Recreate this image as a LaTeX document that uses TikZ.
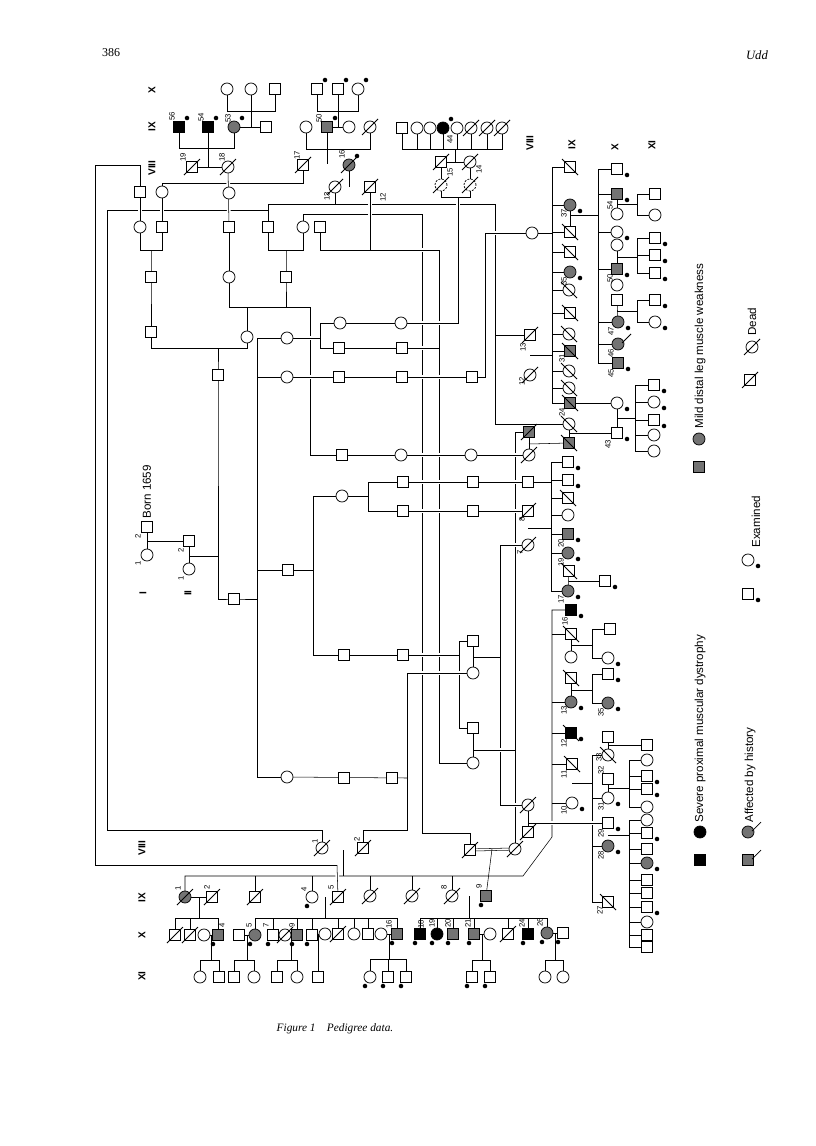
\documentclass[tikz,border=0pt]{standalone}
\usepackage{fontspec}
\setmainfont{Liberation Serif}
\setsansfont{Liberation Sans}
\usetikzlibrary{backgrounds}
\tikzset{
  pm/.style={draw,fill=white,minimum size=8.6pt,inner sep=0pt},
  pf/.style={draw,fill=white,circle,minimum size=9pt,inner sep=0pt},
  aff/.style={fill=black},
  mild/.style={fill=black!55},
  dead/.style={append after command={([shift={(-8,8)}]\tikzlastnode.center) edge ([shift={(8,-8)}]\tikzlastnode.center)}},
  deadr/.style={append after command={([shift={(-8,-8)}]\tikzlastnode.center) edge ([shift={(8,8)}]\tikzlastnode.center)}},
  hist/.style={append after command={([shift={(4,-1)}]\tikzlastnode.center) edge ([shift={(13,-10)}]\tikzlastnode.center)}},
  dsh/.style={dash pattern=on 1.5pt off 1pt},
  lbl/.style={font=\sffamily\fontsize{5.8}{6}\selectfont,rotate=90,inner sep=0pt},
  gen/.style={font=\sffamily\bfseries\fontsize{7.5}{8}\selectfont,rotate=90,inner sep=0pt},
  legtxt/.style={font=\sffamily\fontsize{8.7}{10}\selectfont,rotate=90,inner sep=0pt,anchor=west},
  ovr/.style={preaction={draw=white,line width=2.8pt,shorten <=2pt,shorten >=2pt}},
  dbl/.style={double,double distance=1.2pt}
}
\begin{document}
\begin{tikzpicture}[x=0.75pt,y=-0.75pt,line width=0.55pt]
\useasboundingbox (0,0) rectangle (816,1146);
% page head and caption
\node[font=\fontsize{9}{10}\selectfont] (pg) at (111,53) {386};
\node[font=\itshape\fontsize{9.5}{11}\selectfont] (au) at (757,55) {Udd};
\node[font=\itshape\fontsize{8.5}{10}\selectfont] (cap) at (335,1029) {Figure 1\quad Pedigree data.};
% generation labels
\node[gen] (gtx) at (152,90) {X};
\node[gen] (gtix) at (152,127) {IX};
\node[gen] (gtviii) at (152,168) {VIII};
\node[gen] (gi) at (143,593) {I};
\node[gen] (gii) at (188,593) {II};
\node[gen] (grviii) at (530,143) {VIII};
\node[gen] (grix) at (572,145) {IX};
\node[gen] (grx) at (615,147) {X};
\node[gen] (grxi) at (652,145) {XI};
\node[gen] (gbviii) at (142,848) {VIII};
\node[gen] (gbix) at (142,898) {IX};
\node[gen] (gbx) at (142,935) {X};
\node[gen] (gbxi) at (142,976) {XI};
\node[legtxt] (born) at (147,519) {Born 1659};
% upper branch
\node[pf] (tx1) at (227,89) {};
\node[pf] (tx2) at (251,89) {};
\node[pm] (tx3) at (275,89) {};
\node[pm] (tx4) at (317,89) {};
\node[pm] (tx5) at (338,89) {};
\node[pf] (tx6) at (358,89) {};
\node[pm,aff] (t56) at (179,127) {};
\node[pm,aff] (t54) at (208,127) {};
\node[pf,mild] (t53) at (234,127) {};
\node[pm] (t53s) at (266,127) {};
\node[pf] (tA) at (306,127) {};
\node[pm,mild] (t50) at (327,127) {};
\node[pf] (t50s) at (349,127) {};
\node[pf,dead] (tB) at (370,127) {};
\node[pm,dead] (t19) at (192,167) {};
\node[pf,dead] (t18) at (228,167) {};
\node[pm,dead] (t17) at (303,165) {};
\node[pf,mild,dead] (t16) at (349,165) {};
\node[pf,dead] (t13) at (335,187) {};
\node[pm,dead] (t12) at (370,187) {};
\node[pm] (tc1) at (402,128) {};
\node[pf] (tc2) at (417,128) {};
\node[pf] (tc3) at (430,128) {};
\node[pf,aff] (t44) at (443,128) {};
\node[pf] (tc5) at (457,128) {};
\node[pf,dead] (tc6) at (471,128) {};
\node[pf,dead] (tc7) at (487,128) {};
\node[pf,dead] (tc8) at (502,128) {};
\node[pm,dead] (t15) at (441,162) {};
\node[pf,dead] (t14) at (470,162) {};
\node[pf,dead,dsh] (t15p) at (441,185) {};
\node[pf,dead,dsh] (t14p) at (470,185) {};
\node[pm] (ta2) at (140,192) {};
\node[pf] (ta1) at (162,192) {};
\node[pf] (tb1) at (229,193) {};
\node[pf] (tr1) at (140,227) {};
\node[pm] (tr2) at (162,227) {};
\node[pm] (tr3) at (229,227) {};
\node[pm] (tr4) at (268,227) {};
\node[pf] (tr5) at (303,227) {};
\node[pm] (tr6) at (320,227) {};
\node[pm] (ts1) at (151,277) {};
\node[pf] (ts2) at (229,277) {};
\node[pm] (ts3) at (286,277) {};
\node[pm] (tu1) at (151,332) {};
\node[pf] (tu2) at (247,337) {};
\node[pm] (tv) at (218,375) {};
% founders and middle chains
\node[pm] (cI2) at (147,527) {};
\node[pf] (cI1) at (147,555) {};
\node[pm] (cII2) at (189,541) {};
\node[pf] (cII1) at (189,569) {};
\node[pm] (cg) at (234,599) {};
\node[pf] (ch1) at (287,338) {};
\node[pf] (ch2) at (287,377) {};
\node[pm] (ch3) at (288,570) {};
\node[pf] (ch4) at (287,777) {};
\node[pf] (q1a) at (340,323) {};
\node[pf] (q1b) at (401,323) {};
\node[pm] (q2a) at (339,348) {};
\node[pm] (q2b) at (402,348) {};
\node[pm] (q3a) at (339,377) {};
\node[pm] (q3b) at (402,377) {};
\node[pm] (q3c) at (472,377) {};
\node[pm] (q4a) at (342,455) {};
\node[pf] (q4b) at (401,455) {};
\node[pf] (q4c) at (471,455) {};
\node[pf,dead] (q4d) at (529,455) {};
\node[pf] (q5o) at (342,496) {};
\node[pm] (q5a) at (403,482) {};
\node[pm] (q5b) at (473,482) {};
\node[pm] (q5c) at (528,482) {};
\node[pm] (q6a) at (403,511) {};
\node[pm] (q6b) at (473,511) {};
\node[pm,dead] (v8) at (528,511) {};
\node[pf,dead] (v7) at (528,545) {};
\node[pm] (q7a) at (344,655) {};
\node[pm] (q7b) at (403,655) {};
\node[pm] (q8a) at (473,641) {};
\node[pf] (q8b) at (473,673) {};
\node[pm] (q8c) at (473,728) {};
\node[pf] (q8d) at (473,763) {};
\node[pm] (q9a) at (344,778) {};
\node[pm] (q9b) at (392,778) {};
\node[pm,mild,dead] (vq) at (529,432) {};
\node[pf] (vo) at (532,233) {};
\node[pm,dead] (v13) at (530,335) {};
\node[pf,dead] (v12) at (530,375) {};
\node[pf,dead] (vz1) at (528,805) {};
\node[pm,dead] (vz2) at (528,832) {};
% right branch, IX
\node[pm,deadr] (ra1) at (570,167) {};
\node[pf,mild] (r37) at (570,205) {};
\node[pm,deadr] (ra3) at (570,232) {};
\node[pm,deadr] (ra4) at (570,252) {};
\node[pf,mild] (r35) at (570,272) {};
\node[pf,deadr] (ra6) at (569,290) {};
\node[pm,deadr] (ra7) at (570,313) {};
\node[pf,deadr] (ra8) at (569,334) {};
\node[pm,mild,deadr] (r31) at (570,351) {};
\node[pf,deadr] (ra10) at (569,371) {};
\node[pf,deadr] (ra11) at (569,388) {};
\node[pm,mild,deadr] (r24) at (570,403) {};
\node[pf,deadr] (ra13) at (569,424) {};
\node[pm,mild,deadr] (ra14) at (569,443) {};
\node[pm] (rb1) at (568,462) {};
\node[pm] (rb2) at (568,480) {};
\node[pm,deadr] (rb3) at (568,498) {};
\node[pf] (rb4) at (568,515) {};
\node[pm,mild] (r20) at (568,534) {};
\node[pf,mild] (r19) at (568,553) {};
\node[pm,deadr] (rb7) at (569,571) {};
\node[pf,mild] (r17) at (568,591) {};
\node[pm,aff] (r16) at (571,610) {};
\node[pm,deadr] (rc2) at (571,634) {};
\node[pf] (rc3) at (571,657) {};
\node[pm,deadr] (rc4) at (571,678) {};
\node[pf,mild] (r13) at (571,702) {};
\node[pm,aff,deadr] (r12) at (571,733) {};
\node[pm,deadr] (r11) at (572,764) {};
\node[pf] (r10) at (572,803) {};
% right branch, X and XI
\node[pm] (rx1) at (617,169) {};
\node[pm,mild] (r54) at (617,194) {};
\node[pf] (rx3) at (617,214) {};
\node[pf] (rx4) at (617,232) {};
\node[pf] (rx5) at (617,245) {};
\node[pm,mild] (r50) at (617,269) {};
\node[pf] (rx7) at (617,285) {};
\node[pm] (rx8) at (617,300) {};
\node[pf,mild] (r47) at (618,322) {};
\node[pf,mild,hist] (r46) at (618,344) {};
\node[pm,mild] (r45) at (618,363) {};
\node[pf] (rx12) at (617,403) {};
\node[pm] (r43) at (617,433) {};
\node[pm] (ry1) at (655,194) {};
\node[pf] (ry2) at (655,215) {};
\node[pm] (ry3) at (655,238) {};
\node[pm] (ry4) at (655,255) {};
\node[pm] (ry5) at (655,273) {};
\node[pm] (ry6) at (655,300) {};
\node[pf] (ry7) at (655,322) {};
\node[pm] (ry8) at (654,385) {};
\node[pf] (ry9) at (654,402) {};
\node[pm] (ry10) at (654,420) {};
\node[pf] (ry11) at (654,435) {};
\node[pf] (ry12) at (654,451) {};
\node[pm] (rs1) at (605,581) {};
\node[pm] (rs2) at (610,629) {};
\node[pf] (rs3) at (608,658) {};
\node[pm] (rs4) at (608,674) {};
\node[pf,mild] (r35b) at (608,703) {};
\node[pm] (rs6) at (608,737) {};
\node[pf,deadr] (r33) at (608,755) {};
\node[pm] (r32) at (608,779) {};
\node[pf] (r31b) at (608,798) {};
\node[pm] (r29) at (608,823) {};
\node[pf,mild] (r28) at (608,846) {};
\node[pm,deadr] (r27) at (608,902) {};
\node[pm] (rt1) at (647,745) {};
\node[pf] (rt2) at (647,760) {};
\node[pm] (rt3) at (647,776) {};
\node[pm] (rt4) at (647,789) {};
\node[pf] (rt5) at (647,807) {};
\node[pf] (rt6) at (647,820) {};
\node[pm] (rt7) at (647,833) {};
\node[pm] (rt8) at (647,849) {};
\node[pf,mild] (rt9) at (647,863) {};
\node[pm] (rt10) at (647,880) {};
\node[pm] (rt11) at (647,893) {};
\node[pm] (rt12) at (647,907) {};
\node[pf] (rt13) at (647,922) {};
\node[pm] (rt14) at (647,935) {};
\node[pm] (rt15) at (647,947) {};
% lower branch
\node[pf,dead] (b1) at (322,848) {};
\node[pm,dead] (b2) at (363,848) {};
\node[pm,dead] (b3) at (470,850) {};
\node[pf,dead] (b4) at (515,849) {};
\node[pf,mild,dead] (bi1) at (185,897) {};
\node[pm,dead] (bi2) at (212,897) {};
\node[pm,dead] (bi3) at (255,897) {};
\node[pf] (bi4) at (312,897) {};
\node[pm,dead] (bi5) at (338,897) {};
\node[pf,dead] (bi6) at (370,896) {};
\node[pf,dead] (bi7) at (412,896) {};
\node[pf,dead] (bi8) at (452,896) {};
\node[pm,mild] (bi9) at (486,896) {};
\node[pm,dead] (bx1) at (175,935) {};
\node[pm,dead] (bx2) at (190,935) {};
\node[pf] (bx3) at (204,935) {};
\node[pm,mild] (bx4) at (218,935) {};
\node[pm] (bx5) at (239,935) {};
\node[pf,mild] (bx6) at (255,935) {};
\node[pm] (bx7) at (273,935) {};
\node[pf,dead] (bx8) at (285,935) {};
\node[pm,mild] (bx9) at (297,935) {};
\node[pm] (bx10) at (312,935) {};
\node[pf] (bx11) at (325,934) {};
\node[pm,dead] (bx12) at (338,934) {};
\node[pf] (bx13) at (354,934) {};
\node[pm] (bx14) at (368,934) {};
\node[pf] (bx15) at (381,934) {};
\node[pm,mild] (bx16) at (397,934) {};
\node[pm,aff] (bx18) at (420,934) {};
\node[pf,aff] (bx19) at (437,934) {};
\node[pm,mild] (bx20) at (453,934) {};
\node[pm,mild] (bx21) at (474,934) {};
\node[pf] (bx22) at (490,934) {};
\node[pm,dead] (bx23) at (508,934) {};
\node[pm,aff] (bx24) at (528,934) {};
\node[pf,mild] (bx26) at (547,933) {};
\node[pm] (bx27) at (563,933) {};
\node[pf] (by1) at (200,977) {};
\node[pm] (by2) at (219,977) {};
\node[pm] (by3) at (234,977) {};
\node[pf] (by4) at (254,977) {};
\node[pm] (by5) at (277,977) {};
\node[pf] (by6) at (297,977) {};
\node[pm] (by7) at (318,977) {};
\node[pf] (by8) at (370,977) {};
\node[pm] (by9) at (388,977) {};
\node[pm] (by10) at (406,977) {};
\node[pm] (by11) at (472,977) {};
\node[pm] (by12) at (490,977) {};
\node[pf] (by13) at (545,977) {};
\node[pf] (by14) at (563,977) {};
% key
\node[pm,aff] (k1) at (700,860) {};
\node[pf,aff] (k2) at (700,832) {};
\node[legtxt] (k1t) at (700,823) {Severe proximal muscular dystrophy};
\node[pm,mild] (k3) at (699,467) {};
\node[pf,mild] (k4) at (699,439) {};
\node[legtxt] (k3t) at (700,429) {Mild distal leg muscle weakness};
\node[pm,mild,hist] (k5) at (748,860) {};
\node[pf,mild,hist] (k6) at (748,832) {};
\node[legtxt] (k5t) at (750,823) {Affected by history};
\node[pm] (k7) at (748,594) {};
\node[pf] (k8) at (748,560) {};
\node[legtxt] (k7t) at (756,548) {Examined};
\node[pm,dead] (k9) at (750,380) {};
\node[pf,dead] (k10) at (752,347) {};
\node[legtxt] (k9t) at (752,336) {Dead};
% examined dots
\foreach \n in {t56,t54,t53,t50,tx4,tx5,tx6,t16,t44} \fill ([shift={(8,-9)}]\n.center) circle (1.7pt);
\foreach \n in {r37,r35,rb1,rb2,r20,r19,r17,r16,r13,r12,r10,rx1,r54,rx4,r50,r47,r45,rx12,r43,ry3,ry4,ry5,ry6,ry7,ry8,ry9,ry10,rs1,rs3,rs4,r35b,r31b,r29,r28,rt3,rt4,rt7,rt9,rt12,k7,k8} \fill ([shift={(10,6)}]\n.center) circle (1.7pt);
\foreach \n in {bi4,bi9,bx4,bx6,bx7,bx9,bx10,bx16,bx18,bx19,bx20,bx21,bx24,bx26,bx27,by8,by9,by10,by11,by12} \fill ([shift={(-5,9)}]\n.center) circle (1.7pt);
% numbers
\foreach \n/\t/\x/\y in {t56/56/172/116,t54/54/201/117,t53/53/228/118,t50/50/319/118,t19/19/183/157,t18/18/222/157,t17/17/297/155,t16/16/342/154,t13/13/327/196,t12/12/383/197,t15/15/450/172,t14/14/479/169,t44/44/450/139,cI2/2/138/536,cI1/1/138/563,cII2/2/181/550,cII1/1/181/578,v13/13/523/347,v12/12/522/381,v8/8/522/519,v7/7/520/552,r37/37/564/213,r35/35/564/281,r31/31/562/358,r24/24/562/412,r20/20/561/543,r19/19/561/562,r17/17/561/599,r16/16/565/621,r13/13/564/710,r12/12/564/743,r11/11/564/774,r10/10/564/810,r54/54/610/205,r50/50/610/278,r47/47/611/331,r46/46/611/353,r45/45/611/373,r43/43/608/444,r35b/35/601/712,r33/33/599/757,r32/32/601/770,r31b/31/601/806,r29/29/601/833,r28/28/601/855,r27/27/600/910,b1/1/315/841,b2/2/357/839,bi1/1/178/888,bi2/2/207/887,bi4/4/304/889,bi5/5/331/887,bi8/8/444/887,bi9/9/479/886,bx4/4/222/925,bx6/5/249/925,bx7/7/266/925,bx9/9/292/925,bx16/16/389/924,bx18/18/421/924,bx19/19/432/923,bx20/20/448/923,bx21/21/468/923,bx24/24/522/923,bx26/26/540/922}
  \node[lbl] (l\n) at (\x,\y) {\t};
\begin{scope}[on background layer]
\fill[white] (0,0) rectangle (816,1146);
% long lines that are crossed
\draw (268,210) -- (107,210) -- (107,830) -- (322,830) -- (b1.center);
\draw (t17.center) |- (162,183) -- (ta1.center);
\draw (268,204) -- (495,204) -- (495,424) -- (ra13.center);
\draw (tr5.center) |- (422,214) -- (422,833) -- (470,833) -- (b3.center);
\draw (439,250) -- (439,763) -- (q8d.center);
\draw (q8a.center) -| (459,728) -- (q8c.center);
\draw (500,545) -- (500,805);
\draw (vq.center) -| (b4.center);
\draw (ts2.center) |- (310,307) -- (310,455);
\draw (ta2.center) |- (95,165) -- (95,865) -- (337,865);
\draw (bi1.center) |- (523,876) -- (552,837) -- (552,610) -- (r16.center);
\draw (r33.center) -| (592,902) -- (r27.center);
% lines passing over
\draw[ovr] (ta2.center) -- (tr1.center);
\draw[ovr] (ta1.center) -- (tr2.center);
\draw[ovr] (t18.center) -- (tr3.center);
\draw[ovr] (tr6.center) |- (439,250);
\draw[ovr] (t12.center) -- (370,250);
\draw[ovr] (q1a.center) -- (458,323) -- (458,197);
\draw[ovr] (ch1.center) -- (320,338);
\draw[ovr] (q2a.center) -- (439,348);
\draw[ovr] (ch2.center) -- (485,377) -- (485,233) -- (552,233);
\draw[ovr] (310,455) -- (q4d.center);
\draw[ovr] (q5a.center) -- (551,482);
\draw[ovr] (q6a.center) -- (v8.center);
\draw[ovr] (313,655) -- (459,655);
\draw[ovr] (407,673) -- (q8b.center);
\draw[ovr] (473,750) -- (515,750);
\draw[ovr] (v7.center) -- (500,545);
\draw[ovr] (500,805) -- (vz1.center);
\draw[ovr] (528,823) -- (r29.center);
\draw[ovr] (343,850) -- (343,876);
\draw[ovr] (337,865) -- (bi5.center);
% upper branch
\draw (tx1.center) |- (275,111) -- (tx3.center); \draw (tx2.center) -- (251,127); \draw (t53.center) -- (t53s.center);
\draw (tx4.center) |- (358,111) -- (tx6.center); \draw (tx5.center) -- (338,127); \draw (t50.center) -- (t50s.center);
\draw (t56.center) |- (234,148) -- (t53.center); \draw (t54.center) -- (208,167); \draw (t19.center) -- (t18.center);
\draw (tA.center) |- (370,149) -- (tB.center); \draw (t50.center) -- (327,164); \draw[dbl] (t17.center) -- (t16.center);
\draw (tc1.center) |- (502,149) -- (tc8.center);
\foreach \n in {tc2,tc3,t44,tc5,tc6,tc7} \draw (\n.center) -- (\n.center |- 0,149);
\draw (455,149) -- (455,162); \draw (t15.center) -- (t14.center);
\draw (t15.center) -- (t15p.center); \draw (t14.center) -- (t14p.center); \draw (t15p.center) |- (470,197) -- (t14p.center);
\draw[dbl] (t13.center) -- (t12.center); \draw (t16.center) -- (349,187); \draw (t13.center) -- (335,204);
\draw (268,204) -- (tr4.center); \draw (tr3.center) -- (ts2.center);
\draw (tr1.center) |- (162,250) -- (tr2.center); \draw (151,250) -- (ts1.center) -- (tu1.center);
\draw (tr4.center) |- (303,250) -- (tr5.center); \draw (286,250) -- (ts3.center) -- (286,307); \draw (tu2.center) -- (247,307);
\draw (tu1.center) |- (247,348) -- (tu2.center); \draw (218,348) -- (tv.center) -- (218,599) -- (cg.center) -- (257,599);
% founders and middle chains
\draw (cI2.center) -- (cI1.center); \draw (147,541) -- (cII2.center); \draw (cII2.center) -- (cII1.center); \draw (189,556) -- (218,556);
\draw (ch1.center) -| (257,777) -- (ch4.center); \draw (ch2.center) -- (257,377); \draw (ch3.center) -- (257,570);
\draw (ch3.center) -- (313,570); \draw (q5o.center) -| (313,655); \draw (q5o.center) -- (368,496); \draw (q5a.center) -| (368,511) -- (q6a.center);
\draw (q1a.center) -| (320,348) -- (q2a.center);
\draw (495,335) -- (v13.center); \draw[dbl] (v13.center) -- (v12.center); \draw (530,355) -- (552,355);
\draw (q8a.center) -- (q8b.center); \draw (473,657) -- (500,657); \draw (q8c.center) -- (q8d.center);
\draw (407,673) -- (407,830) -- (363,830) -- (b2.center);
\draw (ch4.center) -- (407,778);
\draw[dbl] (v8.center) -- (v7.center); \draw (528,528) -- (551,528);
\draw (vq.center) -- (q4d.center); \draw (529,444) -- (ra14.center);
\draw (vz1.center) -- (vz2.center);
% right branch
\draw (ra1.center) -| (552,403) -- (r24.center);
\foreach \n in {r37,ra3,ra4,r35,ra6,ra7,ra8,r31,ra10,ra11} \draw (\n.center -| 552,0) -- (\n.center);
\draw (r37.center) -- (ra3.center); \draw (570,215) -- (598,215);
\draw (rx1.center) -| (598,363) -- (r45.center);
\foreach \n in {r54,rx4,r50,r47,r46} \draw (\n.center -| 598,0) -- (\n.center);
\draw (r54.center) -- (rx3.center); \draw (617,204) -- (637,204); \draw (ry1.center) -| (637,215) -- (ry2.center);
\draw (rx5.center) -- (r50.center); \draw (617,257) -- (637,257); \draw (ry3.center) -| (637,273) -- (ry5.center); \draw (ry4.center) -- (637,255);
\draw (rx8.center) -- (r47.center); \draw (617,311) -- (637,311); \draw (ry6.center) -| (637,322) -- (ry7.center);
\draw (r24.center) -- (rx12.center); \draw (ra13.center) -- (ra14.center); \draw (569,433) -- (r43.center);
\draw (rx12.center) -- (r43.center); \draw (617,418) -- (635,418); \draw (ry8.center) -| (635,451) -- (ry12.center);
\foreach \n in {ry9,ry10,ry11} \draw (\n.center -| 635,0) -- (\n.center);
\draw (rb1.center) -| (551,591) -- (r17.center);
\foreach \n in {rb2,rb3,rb4,r20,r19} \draw (\n.center -| 551,0) -- (\n.center);
\draw (rb7.center) -- (r17.center); \draw (569,581) -- (rs1.center);
\foreach \n in {rc2,r13,r12,r11,r10} \draw (\n.center -| 552,0) -- (\n.center);
\draw (rc2.center) -- (rc3.center); \draw (571,645) -- (592,645); \draw (rs2.center) -| (592,658) -- (rs3.center);
\draw (rc4.center) -- (r13.center); \draw (571,690) -- (592,690); \draw (rs4.center) -| (592,703) -- (r35b.center);
\draw[dbl] (r11.center) -- (r10.center); \draw (572,783) -- (592,783);
\foreach \n in {r31b,r28} \draw (\n.center -| 592,0) -- (\n.center);
\draw (rs6.center) -- (r33.center); \draw (608,745) -- (rt1.center);
\draw (r32.center) -- (r31b.center); \draw (608,788) -- (629,788); \draw (rt2.center) -| (629,807) -- (rt5.center);
\foreach \n in {rt3,rt4} \draw (\n.center -| 629,0) -- (\n.center);
\draw[dbl] (r29.center) -- (r28.center); \draw (608,835) -- (629,835); \draw (rt6.center) -| (629,947) -- (rt15.center);
\foreach \n in {rt7,rt8,rt9,rt10,rt11,rt12,rt13,rt14} \draw (\n.center -| 629,0) -- (\n.center);
% lower branch
\draw[dbl] (b1.center) -- (b2.center); \draw[dbl] (b3.center) -- (b4.center); \draw (492,849) -- (bi9.center);
\foreach \n in {bi3,bi4,bi6,bi7,bi8} \draw (\n.center) -- (\n.center |- 0,876);
\draw (bi1.center) -- (bi2.center); \draw (199,897) -- (199,918);
\draw (bx1.center) |- (218,918) -- (bx4.center); \draw (bx2.center) -- (bx2.center |- 0,918);
\draw[dbl] (bi4.center) -- (bi5.center); \draw (325,897) -- (325,918);
\draw (bx6.center) |- (397,918) -- (bx16.center);
\foreach \n in {bx7,bx9,bx10,bx12,bx13,bx14} \draw (\n.center) -- (\n.center |- 0,918);
\draw[dbl] (bi8.center) -- (bi9.center); \draw (469,896) -- (469,918);
\draw (bx18.center) |- (547,918) -- (bx26.center);
\foreach \n in {bx19,bx20,bx21,bx23,bx24} \draw (\n.center) -- (\n.center |- 0,918);
\draw (bx3.center) -- (bx4.center); \draw (211,935) -- (211,960); \draw (by1.center) |- (219,960) -- (by2.center);
\draw (bx5.center) -- (bx6.center); \draw (247,935) -- (247,960); \draw (by3.center) |- (254,960) -- (by4.center);
\draw (bx8.center) -- (bx9.center); \draw (291,935) -- (291,960); \draw (by5.center) |- (297,960) -- (by6.center);
\draw (bx10.center) -- (bx11.center); \draw (318,934) -- (by7.center);
\draw (bx15.center) -- (bx16.center); \draw (389,934) -- (389,959); \draw (by8.center) |- (406,959) -- (by10.center); \draw (by9.center) -- (388,959);
\draw (bx21.center) -- (bx22.center); \draw (482,934) -- (482,960); \draw (by11.center) |- (490,960) -- (by12.center);
\draw (bx26.center) -- (bx27.center); \draw (555,933) -- (555,960); \draw (by13.center) |- (563,960) -- (by14.center);
\end{scope}
\end{tikzpicture}
\end{document}
